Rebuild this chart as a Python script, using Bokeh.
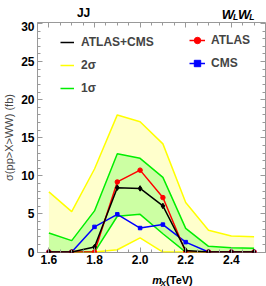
from bokeh.plotting import figure
from bokeh.layouts import column
from bokeh.core.properties import value
from bokeh.models import (Legend, LegendItem, LinearAxis, Range1d,
                          SingleIntervalTicker, PrintfTickFormatter,
                          CustomJSTickFormatter)
from bokeh.embed import file_html
from bokeh.resources import INLINE

# ---- data ----
mx = [1.6, 1.7, 1.8, 1.9, 2.0, 2.1, 2.2, 2.3, 2.4, 2.5]
band2_hi = [7.9, 5.3, 10.9, 18.0, 17.1, 14.2, 6.5, 2.85, 2.1, 2.0]
band2_lo = [0.0, 0.0, 0.0, 0.3, 1.85, 0.0, 0.0, 0.0, 0.0, 0.0]
band1_hi = [2.5, 1.5, 5.4, 12.9, 12.3, 9.8, 3.1, 0.75, 0.55, 0.5]
band1_lo = [0.0, 0.0, 0.0, 4.7, 4.95, 2.4, 0.0, 0.0, 0.0, 0.0]
atlas = [0.0, 0.0, 0.0, 9.2, 10.75, 7.15, 0.0, 0.0, 0.0, 0.0]
cms = [0.0, 0.0, 3.3, 4.95, 3.15, 3.6, 1.3, 0.0, 0.0, 0.0]
combined = [0.0, 0.0, 0.65, 8.45, 8.35, 6.05, 0.2, 0.0, 0.0, 0.0]

x_ticks_interval = 0.2
y_ticks_interval = 5

FONT = "Liberation Sans"
GRAY = "#999999"
W = 266
TOP_H = 21
BOT_H = 18


def strip(height):
    f = figure(width=W, height=height, output_backend="svg", title=None,
               toolbar_location=None, x_range=Range1d(0, W),
               y_range=Range1d(0, height), min_border=0,
               x_axis_location=None, y_axis_location=None)
    f.grid.visible = False
    f.outline_line_color = None
    return f


def txt(fig, s, x, y, size, style="bold"):
    fig.text(x=[x], y=[y], text=[s], text_font=value(FONT),
             text_font_size=size, text_font_style=style, text_color="black",
             text_align="left", text_baseline="alphabetic")


# ---- top strip: titles ----
top = strip(TOP_H)
txt(top, "JJ", 46, 9, "12px")
txt(top, "W", 215, 7, "13px", "bold italic")
txt(top, "L", 228, 5, "8.5px", "bold italic")
txt(top, "W", 234, 7, "13px", "bold italic")
txt(top, "L", 247, 5, "8.5px", "bold italic")

# ---- main plot ----
p = figure(width=W, height=247, output_backend="svg", toolbar_location=None,
           title=None,
           x_range=Range1d(1.55, 2.55), y_range=Range1d(-0.06, 30.13),
           min_border_left=35, min_border_right=1, min_border_top=1,
           min_border_bottom=16, x_axis_location=None, y_axis_location=None)
p.grid.visible = False
p.outline_line_color = GRAY
p.outline_line_width = 1

xt = SingleIntervalTicker(interval=x_ticks_interval, num_minor_ticks=4)
yt = SingleIntervalTicker(interval=y_ticks_interval, num_minor_ticks=5)


def style_axis(ax, labels=True, standoff=3):
    ax.axis_line_color = None
    ax.major_tick_in = 5
    ax.major_tick_out = 0
    ax.minor_tick_in = 3
    ax.minor_tick_out = 0
    ax.major_tick_line_color = GRAY
    ax.minor_tick_line_color = GRAY
    if labels:
        ax.major_label_text_font = FONT
        ax.major_label_text_font_style = "bold"
        ax.major_label_text_font_size = "12px"
        ax.major_label_text_color = "black"
        ax.major_label_standoff = standoff
    else:
        ax.formatter = CustomJSTickFormatter(code="return ''")
        ax.major_label_text_font_size = "0px"
        ax.major_label_standoff = 0


bx = LinearAxis(ticker=xt, formatter=PrintfTickFormatter(format="%.1f"))
style_axis(bx, standoff=2)
p.add_layout(bx, "below")
ly = LinearAxis(ticker=yt, axis_label="σ(pp>X>WW) (fb)")
style_axis(ly, standoff=3)
ly.axis_label_text_font = FONT
ly.axis_label_text_font_style = "normal"
ly.axis_label_text_font_size = "11px"
ly.axis_label_standoff = 3
p.add_layout(ly, "left")
tx = LinearAxis(ticker=xt)
style_axis(tx, labels=False)
p.add_layout(tx, "above")
ry = LinearAxis(ticker=yt)
style_axis(ry, labels=False)
p.add_layout(ry, "right")

# bands
p.varea(x=mx, y1=band2_lo, y2=band2_hi, fill_color="#FFFF00", fill_alpha=0.2)
p.varea(x=mx, y1=band1_lo, y2=band1_hi, fill_color="#00FF00", fill_alpha=0.2)
y2h = p.line(mx, band2_hi, line_color="#FFFF00", line_width=1.5)
p.line(mx, band2_lo, line_color="#FFFF00", line_width=1.5)
g1h = p.line(mx, band1_hi, line_color="#00EE00", line_width=1.5)
p.line(mx, band1_lo, line_color="#00EE00", line_width=1.5)

# measurements
bl = p.line(mx, cms, line_color="#0000FF", line_width=1.5)
bs = p.scatter(mx, cms, marker="square", size=3.5, color="#0000FF")
rl = p.line(mx, atlas, line_color="#FF0000", line_width=1.5)
rs = p.scatter(mx, atlas, marker="circle", size=4.5, color="#FF0000")
kl = p.line(mx, combined, line_color="black", line_width=1.5)
p.scatter(mx, combined, marker="diamond", size=5.5, color="black")

leg_common = dict(background_fill_alpha=0, border_line_color=None,
                  label_text_font=FONT, label_text_font_style="bold",
                  label_text_font_size="12px", padding=0, margin=0,
                  label_height=20, glyph_height=20)
leg1 = Legend(items=[LegendItem(label="ATLAS+CMS", renderers=[kl]),
                     LegendItem(label="2σ", renderers=[y2h]),
                     LegendItem(label="1σ", renderers=[g1h])],
              location=(23, 154), spacing=3, glyph_width=14,
              label_standoff=7, **leg_common)
leg2 = Legend(items=[LegendItem(label="ATLAS", renderers=[rl, rs]),
                     LegendItem(label="CMS", renderers=[bl, bs])],
              location=(152, 179), spacing=3, glyph_width=16,
              label_standoff=6, **leg_common)
p.add_layout(leg1, "center")
p.add_layout(leg2, "center")

# ---- bottom strip: x axis label  m_X (TeV) ----
bot = strip(BOT_H)
txt(bot, "m", 134, 6.5, "11px", "bold italic")
txt(bot, "X", 143.5, 3.5, "8px", "bold italic")
txt(bot, "(TeV)", 150, 6.5, "11px", "bold")

page = column(top, p, bot, spacing=0)
open("out.html", "w").write(file_html(page, INLINE))
